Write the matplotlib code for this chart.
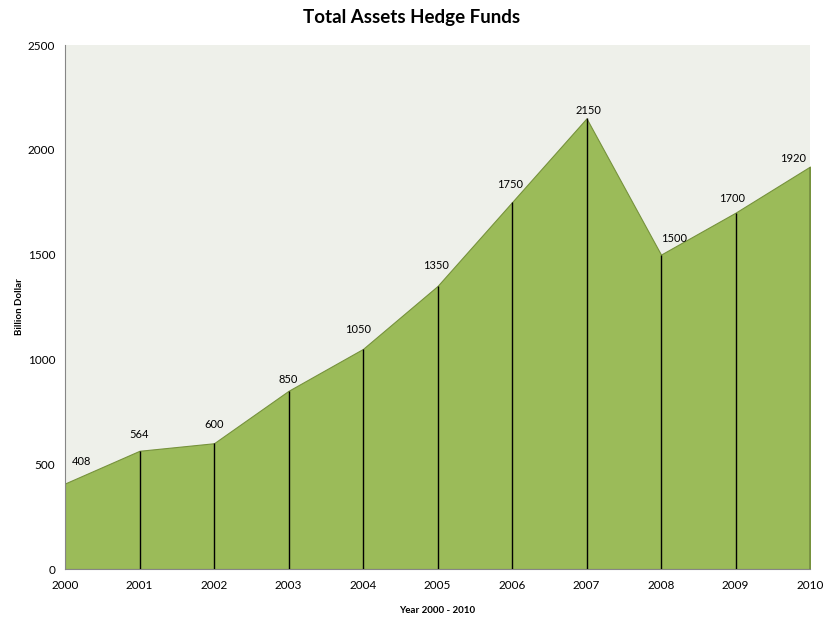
import matplotlib.pyplot as plt

years = [2000, 2001, 2002, 2003, 2004, 2005, 2006, 2007, 2008, 2009, 2010]
assets = [408, 564, 600, 850, 1050, 1350, 1750, 2150, 1500, 1700, 1920]
yticks = [0, 500, 1000, 1500, 2000, 2500]

# label offsets in pixels (x, y) relative to each point
label_offsets = [(17, 22), (0, 16), (0, 19), (0, 11), (-5, 19), (-2, 21),
                 (-2, 18), (2, 8), (13, 16), (-3, 14), (-17, 8)]

plt.rcParams['font.family'] = ['Lato', 'DejaVu Sans']

fig = plt.figure(figsize=(8.24, 6.19), dpi=100)
ax = fig.add_axes([65 / 824, 50 / 619, 745 / 824, 524 / 619])
ax.set_facecolor("#eef0ea")

ax.fill_between(years, assets, 0, color="#9bbb59", edgecolor="#76923c", linewidth=0.8, zorder=2)
ax.vlines(years[1:], 0, assets[1:], color="black", linewidth=1.0, zorder=3)

for (x, y), (dx, dy) in zip(zip(years, assets), label_offsets):
    ax.annotate(str(y), (x, y), xytext=(dx, dy), textcoords="offset pixels",
                ha="center", va="center", fontsize=8)

ax.set_xlim(years[0], years[-1])
ax.set_ylim(0, 2500)
ax.set_xticks(years)
ax.set_yticks(yticks)
ax.tick_params(length=0, labelsize=8.5)
ax.tick_params(axis="x", pad=8)
ax.tick_params(axis="y", pad=7)

for s in ["top", "right"]:
    ax.spines[s].set_visible(False)
for s in ["left", "bottom"]:
    ax.spines[s].set_color("#868686")

ax.set_xlabel("Year 2000 - 2010", fontsize=7, fontweight="bold", labelpad=11)
ax.set_ylabel("Billion Dollar", fontsize=7, fontweight="bold", labelpad=3)
fig.suptitle("Total Assets Hedge Funds", fontsize=13.5, fontweight="bold", y=0.985)

fig.savefig("out.png", dpi=100)
